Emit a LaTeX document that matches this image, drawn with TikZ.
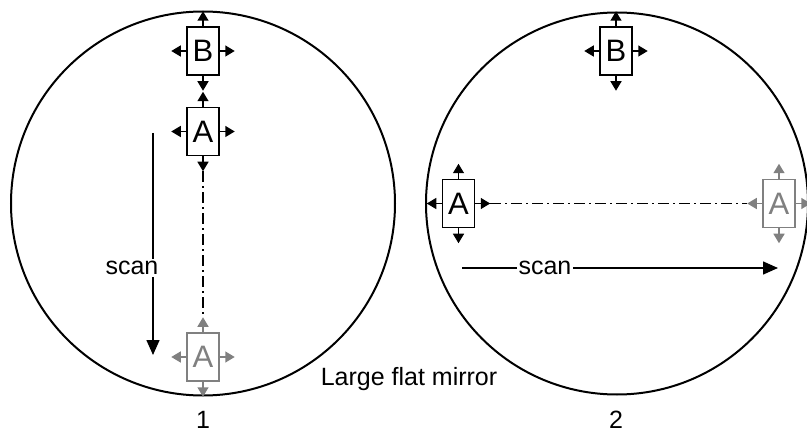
\documentclass[tikz,border=0pt]{standalone}
\usepackage{fontspec}
\setmainfont{Liberation Sans}
\usetikzlibrary{arrows.meta, positioning, calc}
\definecolor{ghost}{HTML}{808080}

% four short arrows out of a probe box
\newcommand{\probearrows}[2]{%
  \draw[tip, #2] (#1.north) -- ++(0,-15);
  \draw[tip, #2] (#1.south) -- ++(0,15);
  \draw[tip, #2] (#1.west) -- ++(-15,0);
  \draw[tip, #2] (#1.east) -- ++(15,0);
}

\begin{document}
\begin{tikzpicture}[
  x=1pt, y=-1pt,
  mirror/.style={circle, draw, line width=2pt, inner sep=0pt},
  probe/.style={rectangle, draw, line width=1.5pt, minimum width=32pt, minimum height=48pt, inner sep=0pt, fill=white, font=\fontsize{31}{31}\selectfont},
  ghostprobe/.style={probe, draw=ghost, text=ghost},
  tip/.style={-{Triangle[length=9.5pt, width=11pt]}, line width=1.5pt},
  scanarr/.style={-{Triangle[length=15pt, width=13pt]}, line width=1.5pt},
  track/.style={line width=1.3pt, dash pattern=on 11pt off 4pt on 2pt off 4pt},
  lbl/.style={font=\fontsize{25}{25}\selectfont, inner sep=2pt},
]
\useasboundingbox (0,0) rectangle (807,433);

% mirrors
\node[mirror, minimum size=384pt] (m1) at (203,203.5) {};
\node[mirror, minimum size=382pt] (m2) at (617,203.5) {};

% panel 1
\node[probe] (b1) at (203,51) {B};
\node[probe] (a1) at (203,131.5) {A};
\node[ghostprobe] (g1) at (203,357) {A};
\probearrows{b1}{}
\probearrows{a1}{}
\probearrows{g1}{ghost}
\coordinate (a1end) at ($(a1.south)+(0,15)$);
\coordinate (g1end) at ($(g1.north)+(0,-15)$);
\draw[track] (a1end) -- (g1end);
\coordinate (s1top) at (153,133);
\coordinate (s1bot) at (153,355);
\draw[scanarr] (s1top) -- (s1bot);
\node[lbl, fill=white] (scan1) at (132,268) {scan};

% panel 2
\node[probe] (b2) at (616,51) {B};
\node[probe] (a2) at (458.5,203.5) {A};
\node[ghostprobe] (g2) at (779,203.5) {A};
\probearrows{b2}{}
\probearrows{a2}{}
\probearrows{g2}{ghost}
\coordinate (a2end) at ($(a2.east)+(15,0)$);
\coordinate (g2end) at ($(g2.west)+(-15,0)$);
\draw[track] (a2end) -- (g2end);
\coordinate (s2left) at (462,268);
\coordinate (s2right) at (778,268);
\draw[scanarr] (s2left) -- (s2right);
\node[lbl, fill=white] (scan2) at (545,268) {scan};

% captions
\node[lbl] (cap) at (409,379) {Large f{}lat mirror};
\node[lbl] (n1) at (203,420) {1};
\node[lbl] (n2) at (616,420) {2};
\end{tikzpicture}
\end{document}
